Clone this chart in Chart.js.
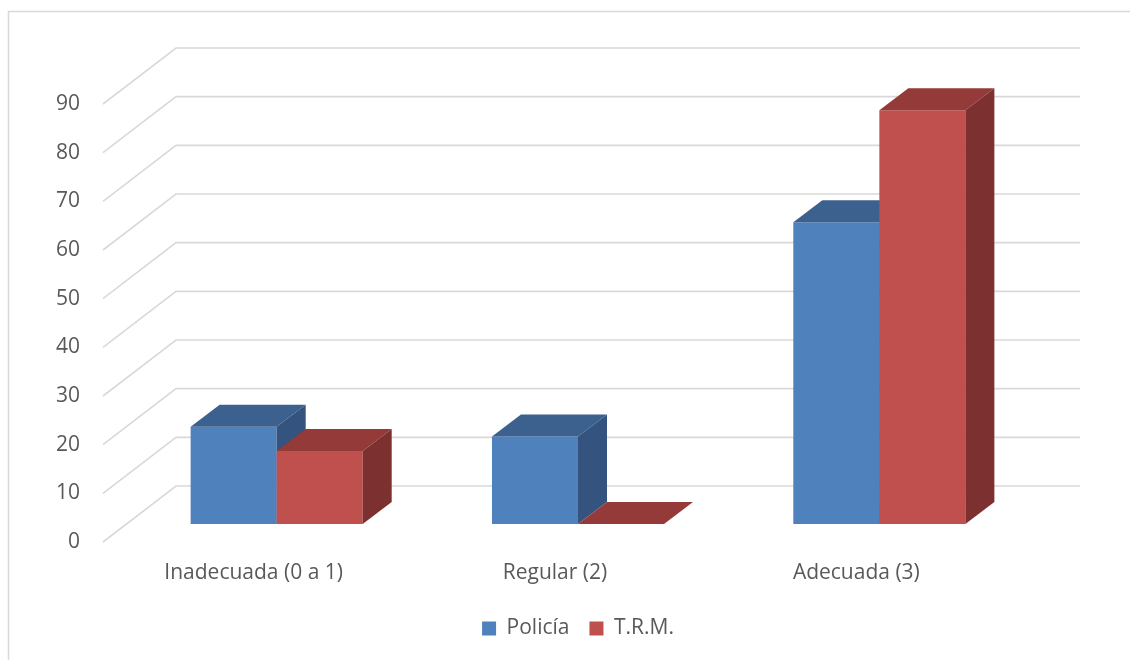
<!DOCTYPE html>
<html>
<head>
<meta charset="utf-8">
<script src="https://cdn.jsdelivr.net/npm/chart.js@4.4.1/dist/chart.umd.min.js"></script>
<style>
  html, body { margin: 0; padding: 0; background: #fff; }
  #wrap { width: 1130px; height: 660px; }
</style>
</head>
<body>
<div id="wrap"><canvas id="chart" width="1130" height="660"></canvas></div>
<script>
// data
const categories = ['Inadecuada (0 a 1)', 'Regular (2)', 'Adecuada (3)'];
const policia = [20, 18, 62];
const trm = [15, 0, 85];
const yMin = 0, yMax = 90, yStep = 10;

// colours: front, top, side
const faces = [
  { front: '#4F81BD', top: '#3C618F', side: '#34537E' },
  { front: '#C0504D', top: '#943B39', side: '#7C302F' }
];

const FONT = '"Open Sans", Lato, sans-serif';
const TEXT = '#595959';
const SIZE = 21;

// oblique depth offsets (px) relative to the bar front plane
const BAR_D = { x: 29, y: -22 };
const BACK = { x: 50, y: -38 };
const FRONT = { x: -23, y: 18 };

function poly(ctx, pts, fill) {
  ctx.beginPath();
  ctx.moveTo(pts[0][0], pts[0][1]);
  for (let i = 1; i < pts.length; i++) ctx.lineTo(pts[i][0], pts[i][1]);
  ctx.closePath();
  ctx.fillStyle = fill;
  ctx.fill();
}

const bars3d = {
  id: 'bars3d',
  beforeDraw(chart) {
    const ctx = chart.ctx;
    ctx.save();
    ctx.strokeStyle = '#d9d9d9';
    ctx.lineWidth = 1.5;
    ctx.strokeRect(8.5, 11.5, 1300, 800);
    ctx.restore();
  },
  beforeDatasetsDraw(chart) {
    const ctx = chart.ctx;
    const area = chart.chartArea;
    const y = chart.scales.y;

    // walls: back gridlines + diagonal side wall lines, value labels at the front edge
    ctx.save();
    ctx.strokeStyle = '#d9d9d9';
    ctx.lineWidth = 1.6;
    ctx.font = SIZE + 'px ' + FONT;
    ctx.fillStyle = TEXT;
    ctx.textAlign = 'right';
    ctx.textBaseline = 'middle';
    y.ticks.forEach(t => {
      const py = y.getPixelForValue(t.value);
      const bx = area.left + BACK.x, by = py + BACK.y;
      ctx.beginPath();
      ctx.moveTo(area.left + FRONT.x, py + FRONT.y);
      ctx.lineTo(bx, by);
      ctx.lineTo(area.right + BACK.x, by);
      ctx.stroke();
      ctx.fillText(String(t.value), area.left - 46, py + FRONT.y);
    });
    ctx.restore();

    // bars, category by category so that the right neighbour hides the side
    const metas = chart.data.datasets.map((d, i) => chart.getDatasetMeta(i));
    ctx.save();
    for (let c = 0; c < categories.length; c++) {
      metas.forEach((meta, d) => {
        const el = meta.data[c];
        const p = el.getProps(['x', 'y', 'base', 'width'], true);
        const l = p.x - p.width / 2, r = p.x + p.width / 2;
        const t = Math.min(p.y, p.base), b = Math.max(p.y, p.base);
        const f = faces[d];
        if (b - t > 0) poly(ctx, [[l, t], [r, t], [r, b], [l, b]], f.front);
        poly(ctx, [[l, t], [l + BAR_D.x, t + BAR_D.y], [r + BAR_D.x, t + BAR_D.y], [r, t]], f.top);
        poly(ctx, [[r, t], [r + BAR_D.x, t + BAR_D.y], [r + BAR_D.x, b + BAR_D.y], [r, b]], f.side);
      });
    }
    ctx.restore();
    return false;
  }
};

Chart.defaults.font.family = FONT;
Chart.defaults.font.size = SIZE;
Chart.defaults.color = TEXT;

new Chart(document.getElementById('chart'), {
  type: 'bar',
  data: {
    labels: categories,
    datasets: [
      { label: 'Policía', data: policia, backgroundColor: faces[0].front, borderWidth: 0 },
      { label: 'T.R.M.', data: trm, backgroundColor: faces[1].front, borderWidth: 0 }
    ]
  },
  options: {
    responsive: false,
    animation: false,
    devicePixelRatio: 1,
    categoryPercentage: 0.571,
    barPercentage: 1,
    layout: { padding: { left: 126, right: 100, top: 86, bottom: 11 } },
    plugins: {
      legend: {
        position: 'bottom',
        labels: { boxWidth: 14, boxHeight: 14, padding: 20, color: TEXT }
      },
      tooltip: { enabled: false }
    },
    scales: {
      x: {
        grid: { display: false, drawTicks: false },
        border: { display: false },
        ticks: { labelOffset: FRONT.x, padding: 36, maxRotation: 0, autoSkip: false },
        afterFit(s) { s.height = 74; }
      },
      y: {
        display: false,
        min: yMin, max: yMax,
        ticks: { stepSize: yStep }
      }
    }
  },
  plugins: [bars3d]
});
</script>
</body>
</html>
